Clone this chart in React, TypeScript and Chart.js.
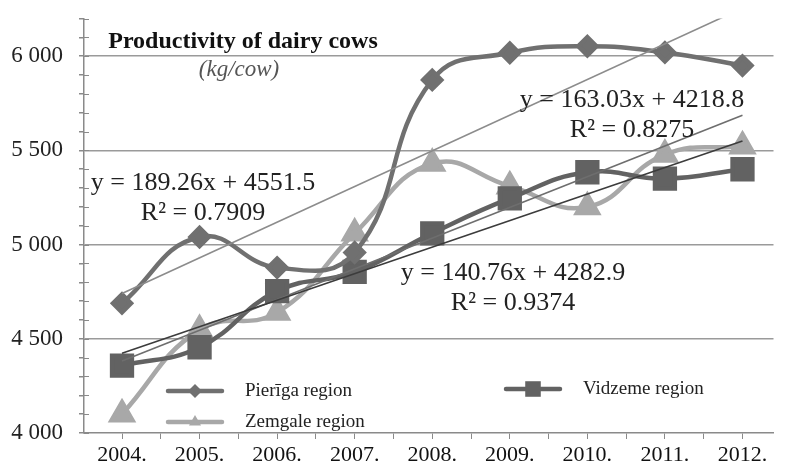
import React, { useEffect, useRef } from "react";
import { Chart, registerables } from "chart.js";

Chart.register(...registerables);

const categories = ["2004.", "2005.", "2006.", "2007.", "2008.", "2009.", "2010.", "2011.", "2012."];
const pieriga = [4688, 5040, 4878, 4958, 5874, 6018, 6053, 6020, 5950];
const vidzeme = [4358, 4455, 4753, 4855, 5060, 5245, 5384, 5350, 5400];
const zemgale = [4100, 4548, 4640, 5060, 5430, 5310, 5200, 5478, 5522];
// Trendline equations shown on the chart: y = a*x + b (x = 1..9)
const trendPieriga = [189.26, 4551.5];
const trendVidzeme = [140.76, 4282.9];
const trendZemgale = [163.03, 4218.8];
const yTickValues = [4000, 4500, 5000, 5500, 6000];
const yTickLabels = ["4 000", "4 500", "5 000", "5 500", "6 000"];
const seriesNames = ["Pierīga region", "Vidzeme region", "Zemgale region"];

const SERIF = "'Liberation Serif', 'Times New Roman', serif";

function pts(vals: number[]) {
  return vals.map((v, i) => ({ x: i, y: v }));
}
function trend(c: number[]) {
  const n = categories.length;
  return [
    { x: 0, y: c[0] * 1 + c[1] },
    { x: n - 1, y: c[0] * n + c[1] },
  ];
}

function drawMarker(ctx: CanvasRenderingContext2D, style: string, x: number, y: number, r: number) {
  ctx.beginPath();
  if (style === "rectRot") {
    ctx.moveTo(x, y - r);
    ctx.lineTo(x + r, y);
    ctx.lineTo(x, y + r);
    ctx.lineTo(x - r, y);
  } else if (style === "rect") {
    const s = r * Math.SQRT1_2;
    ctx.rect(x - s, y - s, 2 * s, 2 * s);
  } else {
    ctx.moveTo(x, y - r);
    ctx.lineTo(x + r * 0.866, y + r * 0.5);
    ctx.lineTo(x - r * 0.866, y + r * 0.5);
  }
  ctx.closePath();
  ctx.fill();
}

const overlayPlugin = {
  id: "overlay",
  afterDraw(chart: any) {
    const ctx: CanvasRenderingContext2D = chart.ctx;
    const y = chart.scales.y;
    const area = chart.chartArea;
    ctx.save();
    // inner minor tick marks on y axis
    ctx.strokeStyle = "#8a8a8a";
    ctx.lineWidth = 1;
    for (let v = y.min; v <= y.max; v += 100) {
      const py = Math.round(y.getPixelForValue(v)) + 0.5;
      ctx.beginPath();
      ctx.moveTo(area.left, py);
      ctx.lineTo(area.left + 5, py);
      ctx.stroke();
    }
    // title
    ctx.fillStyle = "#111";
    ctx.textAlign = "center";
    ctx.textBaseline = "middle";
    ctx.font = `bold 24px ${SERIF}`;
    ctx.fillText("Productivity of dairy cows", 243, 42);
    ctx.fillStyle = "#555";
    ctx.font = `italic 23px ${SERIF}`;
    ctx.fillText("(kg/cow)", 239, 70);
    // trend equations
    ctx.fillStyle = "#222";
    ctx.font = `26px ${SERIF}`;
    const eq = (c: number[]) => `y = ${c[0].toFixed(2)}x + ${c[1].toFixed(1)}`;
    ctx.fillText(eq(trendPieriga), 203, 183);
    ctx.fillText("R² = 0.7909", 203, 213);
    ctx.fillText(eq(trendZemgale), 632, 100);
    ctx.fillText("R² = 0.8275", 632, 130);
    ctx.fillText(eq(trendVidzeme), 513, 273);
    ctx.fillText("R² = 0.9374", 513, 303);
    // legend
    const ds = chart.data.datasets;
    const entries = [
      { d: ds[0], x: 168, y: 391 },
      { d: ds[2], x: 168, y: 422 },
      { d: ds[1], x: 506, y: 389 },
    ];
    ctx.font = `19px ${SERIF}`;
    ctx.textAlign = "left";
    for (const e of entries) {
      ctx.strokeStyle = e.d.borderColor;
      ctx.fillStyle = e.d.borderColor;
      ctx.lineWidth = 4.5;
      ctx.lineCap = "round";
      ctx.beginPath();
      ctx.moveTo(e.x, e.y);
      ctx.lineTo(e.x + 54, e.y);
      ctx.stroke();
      drawMarker(ctx, e.d.pointStyle, e.x + 27, e.y, e.d.pointStyle === "rect" ? 11 : 7);
      ctx.fillStyle = "#222";
      ctx.fillText(e.d.label, e.x + 77, e.y);
    }
    ctx.restore();
  },
};

export default function App() {
  const ref = useRef<HTMLCanvasElement>(null);
  useEffect(() => {
    if (!ref.current) return;
    const chart = new Chart(ref.current, {
      type: "line",
      data: {
        datasets: [
          {
            label: seriesNames[0],
            data: pts(pieriga),
            borderColor: "#707070",
            backgroundColor: "#707070",
            borderWidth: 4.5,
            pointStyle: "rectRot",
            pointRadius: 9,
            tension: 0.45,
            order: 2,
          },
          {
            label: seriesNames[1],
            data: pts(vidzeme),
            borderColor: "#626262",
            backgroundColor: "#626262",
            borderWidth: 4.5,
            pointStyle: "rect",
            pointRadius: 14,
            tension: 0.45,
            order: 2,
          },
          {
            label: seriesNames[2],
            data: pts(zemgale),
            borderColor: "#a8a8a8",
            backgroundColor: "#a8a8a8",
            borderWidth: 4.5,
            pointStyle: "triangle",
            pointRadius: 12,
            tension: 0.45,
            order: 2,
          },
          {
            label: "trend P",
            data: trend(trendPieriga),
            borderColor: "#8c8c8c",
            borderWidth: 1.6,
            pointRadius: 0,
            tension: 0,
            order: 1,
          },
          {
            label: "trend V",
            data: trend(trendVidzeme),
            borderColor: "#3c3c3c",
            borderWidth: 1.6,
            pointRadius: 0,
            tension: 0,
            order: 1,
          },
          {
            label: "trend Z",
            data: trend(trendZemgale),
            borderColor: "#6e6e6e",
            borderWidth: 1.6,
            pointRadius: 0,
            tension: 0,
            order: 1,
          },
        ],
      },
      options: {
        animation: false,
        responsive: false,
        maintainAspectRatio: false,
        layout: { padding: { top: 15, right: 0, left: 0, bottom: 0 } },
        plugins: { legend: { display: false }, tooltip: { enabled: false } },
        scales: {
          x: {
            type: "linear",
            min: -0.49,
            max: 8.4,
            afterBuildTicks: (s: any) => {
              const t: any[] = [];
              for (let i = 0; i < categories.length; i++) {
                t.push({ value: i });
                if (i < categories.length - 1) t.push({ value: i + 0.5 });
              }
              s.ticks = t;
            },
            afterFit: (s: any) => {
              s.height = 36;
              s.paddingLeft = 0;
              s.paddingRight = 0;
            },
            grid: { color: "transparent", tickColor: "#8a8a8a", tickLength: 6, drawOnChartArea: false },
            border: { color: "#8a8a8a", width: 1.5 },
            ticks: {
              autoSkip: false,
              maxRotation: 0,
              padding: 3,
              color: "#111",
              font: { family: SERIF, size: 22 },
              callback: (v: any) => (Number.isInteger(v) ? categories[v] : ""),
            },
          },
          y: {
            type: "linear",
            min: 4000,
            max: 6200,
            afterBuildTicks: (s: any) => {
              const t: any[] = [];
              for (let v = 4000; v <= 6200; v += 100) t.push({ value: v });
              s.ticks = t;
            },
            afterFit: (s: any) => {
              s.width = 84;
              s.paddingTop = 0;
              s.paddingBottom = 0;
            },
            grid: {
              color: (c: any) => (c.tick && yTickValues.includes(c.tick.value) && c.tick.value !== 4000 ? "#9a9a9a" : "transparent"),
              lineWidth: 1.5,
              tickColor: "#8a8a8a",
              tickLength: 5,
            },
            border: { color: "#8a8a8a", width: 1.5 },
            ticks: {
              autoSkip: false,
              padding: 16,
              color: "#222",
              font: { family: SERIF, size: 23 },
              callback: (v: any) => {
                const i = yTickValues.indexOf(v);
                return i >= 0 ? yTickLabels[i] : "";
              },
            },
          },
        },
      },
      plugins: [overlayPlugin],
    });
    return () => chart.destroy();
  }, []);
  return (
    <div style={{ position: "fixed", left: 0, top: 0, width: 792, height: 469, background: "#fff" }}>
      <canvas ref={ref} width={792} height={469} style={{ width: 792, height: 469 }} />
    </div>
  );
}
